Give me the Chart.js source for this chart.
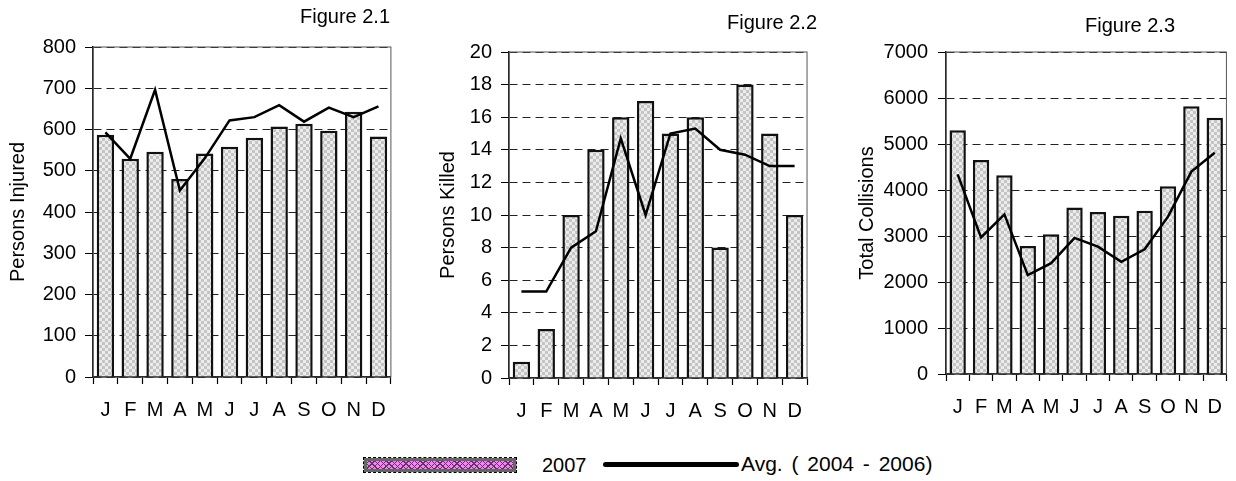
<!DOCTYPE html>
<html>
<head>
<meta charset="utf-8">
<script src="https://cdn.jsdelivr.net/npm/chart.js@4"></script>
<style>
  body { margin: 0; background: #fff; width: 1236px; height: 481px; position: relative; overflow: hidden;
         font-family: Arial, "Liberation Sans", sans-serif; color: #000; }
  canvas { position: absolute; top: 0; }
  .fig { position: absolute; font-size: 20px; line-height: 20px; white-space: nowrap; transform: translateX(-50%); }
  .legend { position: absolute; top: 454px; left: 0; font-size: 20px; line-height: 20px; }
  .legend span, .legend div { position: absolute; white-space: nowrap; }
  #lg-box { left: 364px; top: 4px; width: 146px; height: 8px; border: 3px solid #666; outline: 1px dashed #000;
            background-color: #ff7cff;
            background-image: repeating-linear-gradient(45deg, transparent 0 3px, #5a3a5a 3px 4px),
                              repeating-linear-gradient(-45deg, transparent 0 3px, #5a3a5a 3px 4px); }
  #lg-line { left: 603px; top: 8px; width: 136px; height: 5px; background: #000; border-radius: 3px; }
</style>
</head>
<body>
<canvas id="c1" width="400" height="430" style="left:0"></canvas>
<canvas id="c2" width="400" height="430" style="left:416px"></canvas>
<canvas id="c3" width="400" height="430" style="left:836px"></canvas>

<div class="fig" style="left:345px; top:6px">Figure 2.1</div>
<div class="fig" style="left:772px; top:12px">Figure 2.2</div>
<div class="fig" style="left:1130px; top:15px">Figure 2.3</div>

<div class="legend">
  <div id="lg-box"></div>
  <span style="left:542px; top:1px">2007</span>
  <div id="lg-line"></div>
  <span style="left:741px; top:0px; font-size:21px; word-spacing:3px">Avg. ( 2004 - 2006)</span>
</div>

<script>
"use strict";

const months = ["J", "F", "M", "A", "M", "J", "J", "A", "S", "O", "N", "D"];

const injured2007 = [587, 529, 546, 480, 542, 558, 580, 607, 614, 597, 643, 583];
const injuredAvg  = [593, 529, 696, 452, 530, 622, 630, 659, 619, 653, 630, 656];

const killed2007 = [1, 3, 10, 14, 16, 17, 15, 16, 8, 18, 15, 10];
const killedAvg  = [5.3, 5.3, 8, 9, 14.7, 10, 15, 15.3, 14, 13.7, 13, 13];

const collisions2007 = [5300, 4650, 4320, 2780, 3040, 3620, 3520, 3440, 3550, 4080, 5820, 5570];
const collisionsAvg  = [4340, 2970, 3470, 2150, 2410, 2960, 2770, 2440, 2710, 3420, 4400, 4810];

const FONT = "Arial, 'Liberation Sans', sans-serif";

// grey checkerboard used for the bars
function checkerPattern() {
  const p = document.createElement("canvas");
  p.width = 6; p.height = 6;
  const g = p.getContext("2d");
  g.fillStyle = "#ececec"; g.fillRect(0, 0, 6, 6);
  g.fillStyle = "#c4c4c4"; g.fillRect(0, 0, 3, 3); g.fillRect(3, 3, 3, 3);
  return g.createPattern(p, "repeat");
}

// thin frame round the plot area (top + right edges)
const frame = {
  id: "frame",
  beforeDatasetsDraw(chart) {
    const { ctx, chartArea: a } = chart;
    ctx.save();
    ctx.strokeStyle = "#555";
    ctx.lineWidth = 1;
    ctx.strokeRect(a.left, a.top, a.right - a.left, a.bottom - a.top);
    ctx.restore();
  },
};

function makeChart(id, cfg) {
  const ctx = document.getElementById(id).getContext("2d");
  return new Chart(ctx, {
    type: "bar",
    data: {
      labels: months,
      datasets: [
        {
          type: "line",
          data: cfg.avg,
          borderColor: "#000",
          borderWidth: 2.5,
          pointRadius: 0,
          tension: 0,
          order: 0,
        },
        {
          type: "bar",
          data: cfg.bars,
          backgroundColor: checkerPattern(),
          borderColor: "#111",
          borderWidth: 2.5,
          barPercentage: 0.7,
          categoryPercentage: 1,
          order: 1,
        },
      ],
    },
    options: {
      responsive: false,
      animation: false,
      events: [],
      layout: { padding: cfg.pad },
      plugins: { legend: { display: false }, tooltip: { enabled: false } },
      scales: {
        x: {
          offset: true,
          grid: { offset: true, drawOnChartArea: false, drawTicks: true, tickLength: 7, tickColor: "#000", tickWidth: 1.2 },
          border: { color: "#000", width: 1.5 },
          ticks: { color: "#000", font: { family: FONT, size: 20 }, padding: 14, autoSkip: false, maxRotation: 0 },
          afterFit: (s) => { s.height = 40; },
        },
        y: {
          min: 0,
          max: cfg.max,
          grid: { color: "#222", lineWidth: 1, tickLength: 8, tickColor: "#000" },
          border: { color: "#000", width: 1.5, dash: [8, 5] },
          ticks: {
            stepSize: cfg.step, color: "#000", font: { family: FONT, size: 20 }, padding: cfg.tickPad,
            callback: (v) => String(v),
          },
          title: { display: true, text: cfg.title, color: "#000", font: { family: FONT, size: 20 }, padding: { top: cfg.titlePad } },
          afterFit: (s) => { s.width = cfg.yWidth; },
        },
      },
    },
    plugins: [frame],
  });
}

makeChart("c1", {
  bars: injured2007, avg: injuredAvg, max: 800, step: 100, title: "Persons Injured",
  yWidth: 93, tickPad: 9, titlePad: 6,
  pad: { top: 47, right: 7, bottom: 13, left: 0 },
});

makeChart("c2", {
  bars: killed2007, avg: killedAvg, max: 20, step: 2, title: "Persons Killed",
  yWidth: 93, tickPad: 9, titlePad: 20,
  pad: { top: 52, right: 4, bottom: 12, left: 0 },
});

makeChart("c3", {
  bars: collisions2007, avg: collisionsAvg, max: 7000, step: 1000, title: "Total Collisions",
  yWidth: 110, tickPad: 10, titlePad: 19,
  pad: { top: 52, right: 1, bottom: 16, left: 0 },
});
</script>
</body>
</html>
